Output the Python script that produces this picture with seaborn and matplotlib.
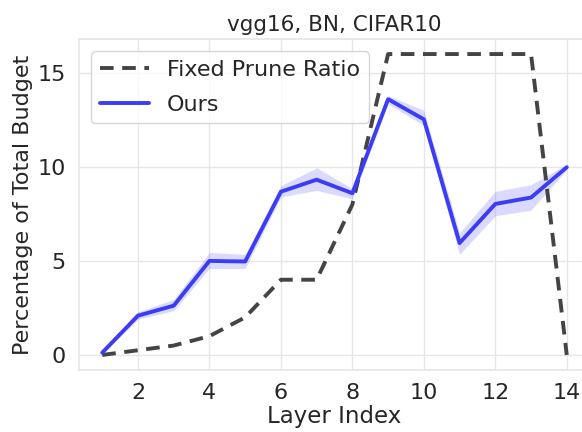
import numpy as np
import pandas as pd
import matplotlib
matplotlib.use("Agg")
import matplotlib.pyplot as plt
import seaborn as sns

layers = list(range(1, 15))
fixed_ratio = [0.0, 0.25, 0.5, 1.0, 2.0, 4.0, 4.0, 8.0, 16.0, 16.0, 16.0, 16.0, 16.0, 0.0]
ours_mean = [0.12, 2.09, 2.62, 5.0, 4.97, 8.68, 9.32, 8.6, 13.6, 12.53, 5.95, 8.03, 8.37, 9.98]
ours_low = [0.05, 1.9, 2.35, 4.6, 4.6, 8.4, 8.75, 8.3, 13.35, 12.2, 5.35, 7.4, 7.7, 9.85]
ours_high = [0.18, 2.3, 2.95, 5.45, 5.35, 9.0, 9.95, 8.85, 13.8, 13.0, 6.5, 8.7, 9.05, 10.15]

sns.set_theme(style="whitegrid", rc={"grid.color": "#e6e6e6", "axes.edgecolor": "#e6e6e6"})
plt.rcParams['font.family'] = ['DejaVu Sans']

fig = plt.figure(figsize=(5.82, 4.32), dpi=100)
ax = fig.add_axes([79/582, 62/432, 511/582, 331/432])

df = pd.DataFrame({
    "layer": layers * 2,
    "value": fixed_ratio + ours_mean,
    "method": ["Fixed Prune Ratio"] * 14 + ["Ours"] * 14,
})
sns.lineplot(data=df[df.method == "Fixed Prune Ratio"], x="layer", y="value",
             ax=ax, color="#444444", linewidth=2.8, dashes=False,
             label="Fixed Prune Ratio").lines[0].set_dashes([3.5, 2.2])
sns.lineplot(data=df[df.method == "Ours"], x="layer", y="value",
             ax=ax, color="#3c3cf7", linewidth=2.8, label="Ours")
ax.fill_between(layers, ours_low, ours_high, color="#4a4aff", alpha=0.2, linewidth=0)

ax.set_xlim(0.35, 14.65)
ax.set_ylim(-0.8, 16.8)
ax.set_xticks([2, 4, 6, 8, 10, 12, 14])
ax.set_yticks([0, 5, 10, 15])
ax.tick_params(labelsize=16, colors="#262626")
ax.set_xlabel("Layer Index", fontsize=16.5, labelpad=1, color="#262626")
ax.set_ylabel("Percentage of Total Budget", fontsize=16, labelpad=3, color="#262626")
ax.set_title("vgg16, BN, CIFAR10", fontsize=15.5, color="#262626", pad=6)
ax.legend(loc="upper left", fontsize=16, handlelength=2.2, handletextpad=0.8,
          borderaxespad=0.55, labelspacing=0.65)

fig.savefig("out.png", dpi=100)
